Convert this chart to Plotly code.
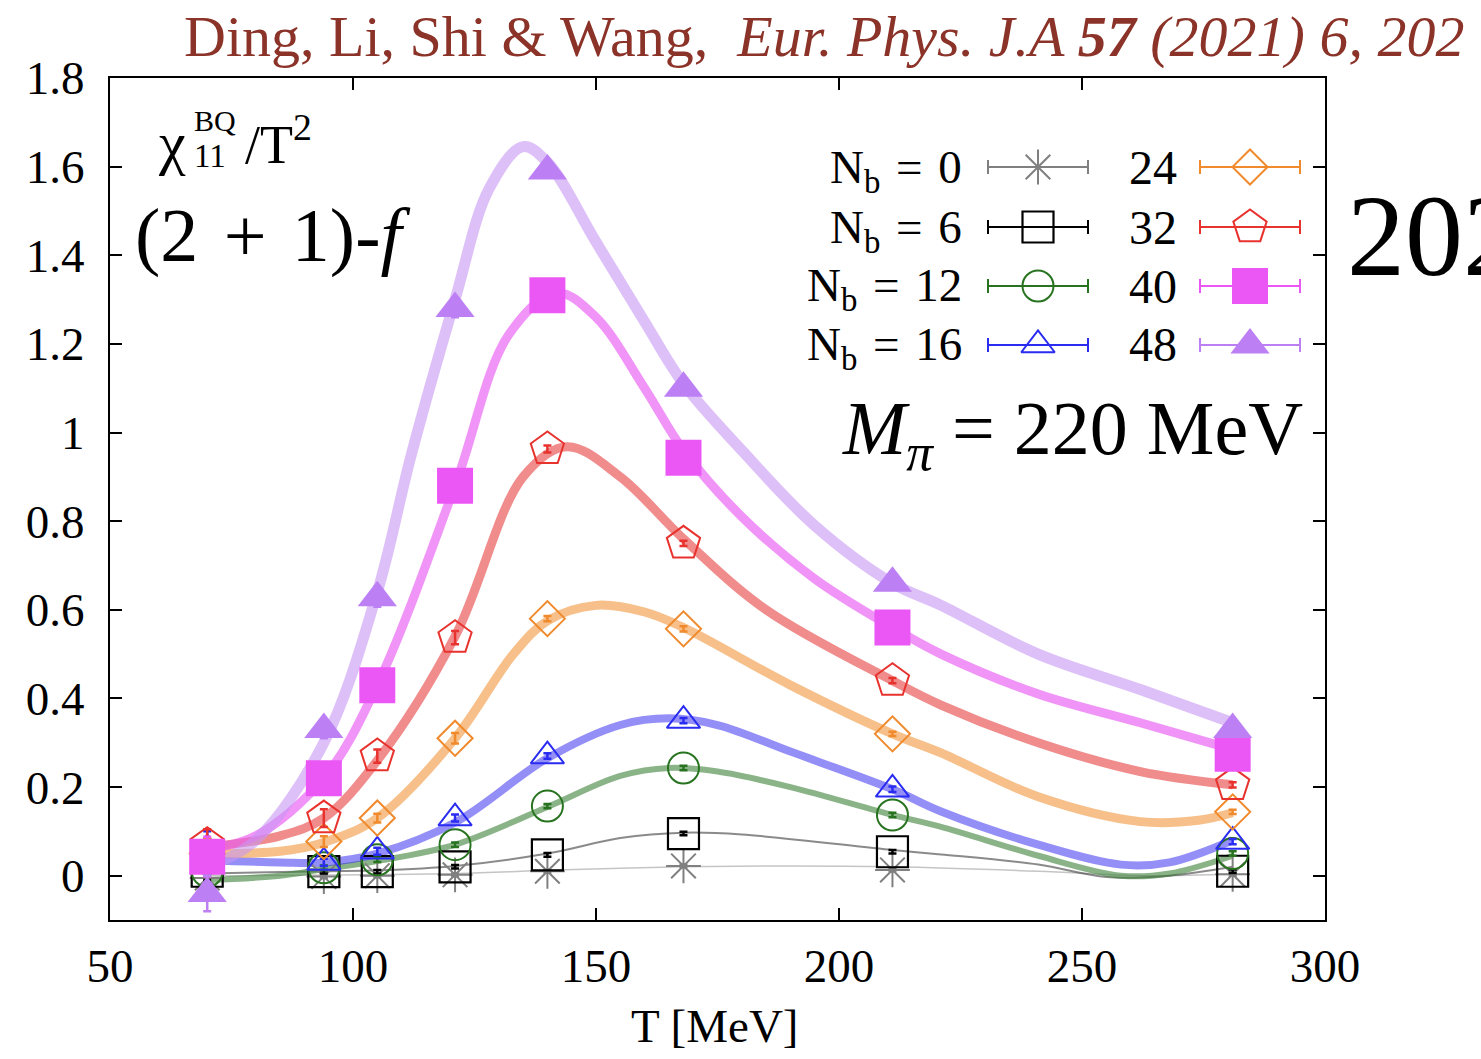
import plotly.graph_objects as go

# ---------------- data ----------------
T = [70, 94, 105, 121, 140, 168, 211, 281]

nb0 = [-0.005, -0.002, 0.0, 0.002, 0.010, 0.022, 0.013, 0.003]
nb6 = [0.010, 0.009, 0.009, 0.020, 0.047, 0.095, 0.054, 0.010]
nb12 = [0.010, 0.018, 0.036, 0.070, 0.157, 0.243, 0.137, 0.050]
nb16 = [0.060, 0.030, 0.055, 0.130, 0.270, 0.350, 0.195, 0.077]
nb24 = [0.050, 0.077, 0.130, 0.310, 0.580, 0.557, 0.320, 0.144]
nb32 = [0.070, 0.130, 0.270, 0.537, 0.963, 0.750, 0.440, 0.205]
nb40 = [0.043, 0.220, 0.430, 0.880, 1.310, 0.943, 0.560, 0.275]
nb48 = [-0.040, 0.330, 0.627, 1.280, 1.590, 1.100, 0.660, 0.330]

err0 = [0.01, 0.003, 0.003, 0.003, 0.003, 0.003, 0.003, 0.003]
err6 = [0.02, 0.004, 0.004, 0.004, 0.004, 0.004, 0.004, 0.004]
err12 = [0.03, 0.005, 0.005, 0.005, 0.005, 0.005, 0.005, 0.005]
err16 = [0.04, 0.008, 0.008, 0.008, 0.006, 0.006, 0.006, 0.006]
err24 = [0.035, 0.012, 0.010, 0.012, 0.006, 0.006, 0.005, 0.005]
err32 = [0.035, 0.020, 0.015, 0.015, 0.008, 0.006, 0.006, 0.006]
err40 = [0.045, 0.015, 0.015, 0.015, 0.010, 0.010, 0.008, 0.008]
err48 = [0.040, 0.020, 0.020, 0.020, 0.015, 0.015, 0.010, 0.010]

# fit curves
c48_T = [70, 80, 94, 105, 112, 121, 128, 135, 140, 150, 160, 168, 180, 195, 211, 221, 241, 262, 281]
c48_v = [0.02, 0.08, 0.30, 0.64, 0.95, 1.30, 1.55, 1.645, 1.61, 1.43, 1.25, 1.11, 0.96, 0.79, 0.66, 0.61, 0.50, 0.42, 0.345]
c40_T = [70, 80, 94, 105, 121, 132, 142, 150, 160, 168, 180, 195, 211, 221, 241, 262, 281]
c40_v = [0.06, 0.09, 0.22, 0.43, 0.88, 1.22, 1.315, 1.26, 1.10, 0.96, 0.81, 0.67, 0.56, 0.50, 0.41, 0.345, 0.285]
c32_T = [70, 85, 94, 105, 121, 135, 144, 155, 168, 185, 211, 221, 241, 262, 281]
c32_v = [0.065, 0.09, 0.13, 0.26, 0.54, 0.90, 0.968, 0.90, 0.76, 0.60, 0.44, 0.385, 0.30, 0.235, 0.205]
c24_T = [70, 85, 94, 105, 121, 133, 140, 150, 160, 168, 190, 211, 221, 241, 262, 274, 281]
c24_v = [0.05, 0.055, 0.075, 0.13, 0.31, 0.50, 0.575, 0.61, 0.595, 0.56, 0.43, 0.32, 0.277, 0.178, 0.122, 0.125, 0.142]
c16_T = [70, 85, 94, 105, 121, 140, 155, 165, 175, 190, 211, 221, 241, 258, 268, 281]
c16_v = [0.035, 0.03, 0.03, 0.05, 0.12, 0.265, 0.34, 0.355, 0.34, 0.28, 0.195, 0.145, 0.07, 0.025, 0.03, 0.08]
c12_T = [70, 85, 94, 105, 121, 140, 155, 165, 175, 190, 211, 221, 241, 258, 268, 281]
c12_v = [-0.01, 0.0, 0.015, 0.033, 0.07, 0.155, 0.225, 0.243, 0.235, 0.20, 0.137, 0.11, 0.045, 0.0, 0.005, 0.045]
c6_T = [70, 94, 105, 121, 140, 155, 168, 180, 211, 221, 241, 255, 268, 281]
c6_v = [0.005, 0.01, 0.012, 0.022, 0.05, 0.085, 0.097, 0.093, 0.058, 0.048, 0.025, -0.003, 0.0, 0.02]
c0_T = [70, 121, 140, 168, 190, 211, 241, 262, 281]
c0_v = [0.0, 0.005, 0.012, 0.02, 0.022, 0.02, 0.01, 0.0, 0.003]

EQ = "\u2004=\u2004"
labels_left = ["N<sub>b</sub>" + EQ + "0", "N<sub>b</sub>" + EQ + "6",
               "N<sub>b</sub>" + EQ + "12", "N<sub>b</sub>" + EQ + "16"]
labels_right = ["24", "32", "40", "48"]

# ---------------- styles ----------------
series = [
    # values, errors, curveT, curveV, marker color, curve color, width, symbol, size, line width
    (nb0, err0, c0_T, c0_v, "#808080", "rgba(150,150,150,0.55)", 1.5, "asterisk-open", 29, 2),
    (nb6, err6, c6_T, c6_v, "#000000", "rgba(60,60,60,0.6)", 2, "square-open", 31, 2.2),
    (nb12, err12, c12_T, c12_v, "#27731f", "rgba(60,130,55,0.6)", 6, "circle-open", 31, 2),
    (nb16, err16, c16_T, c16_v, "#2a2cf2", "rgba(60,50,240,0.55)", 8, "triangle-up-open", 29, 2),
    (nb24, err24, c24_T, c24_v, "#f08a2c", "rgba(242,150,60,0.6)", 9, "diamond-open", 27, 2),
    (nb32, err32, c32_T, c32_v, "#e8322e", "rgba(230,70,70,0.62)", 9, "pentagon-open", 35, 2),
    (nb40, err40, c40_T, c40_v, "#eb57f5", "rgba(232,90,242,0.65)", 9, "square", 36, 0),
    (nb48, err48, c48_T, c48_v, "#bd80f4", "rgba(200,150,244,0.6)", 11, "triangle-up", 34, 0),
]

fig = go.Figure()

# curves first
for vals, errs, cT, cV, mcol, ccol, lw, sym, sz, mlw in series:
    fig.add_trace(go.Scatter(x=cT, y=cV, mode="lines",
                             line=dict(color=ccol, width=lw, shape="spline", smoothing=1.0),
                             hoverinfo="skip", showlegend=False))

# points
for vals, errs, cT, cV, mcol, ccol, lw, sym, sz, mlw in series:
    fig.add_trace(go.Scatter(x=T, y=vals, mode="markers",
                             marker=dict(symbol=sym, size=sz, color=mcol,
                                         line=dict(color=mcol, width=mlw)),
                             error_y=dict(type="data", array=errs, color=mcol, thickness=2.5, width=4),
                             cliponaxis=False, showlegend=False))

# ---------------- layout geometry ----------------
W, H = 1481, 1059
L, R, TOP, BOT = 110, 1325, 78, 920


def px(xp):
    return (xp - L) / (R - L)


def py(yp):
    return (BOT - yp) / (BOT - TOP)


# custom legend drawn on an overlay axis pair
leg_rows = [167, 227, 286, 345]
half = 50 / (R - L)
for i in range(4):
    for col, xc in ((0, 1038), (1, 1250)):
        vals, errs, cT, cV, mcol, ccol, lw, sym, sz, mlw = series[i + 4 * col]
        fig.add_trace(go.Scatter(x=[px(xc)], y=[py(leg_rows[i])], xaxis="x2", yaxis="y2",
                                 mode="markers",
                                 marker=dict(symbol=sym, size=sz, color=mcol,
                                             line=dict(color=mcol, width=mlw)),
                                 error_x=dict(type="data", array=[half], color=mcol, thickness=2, width=7),
                                 cliponaxis=False, showlegend=False, hoverinfo="skip"))

serif = "Liberation Serif"
ann = []
for i in range(4):
    ann.append(dict(x=px(964), y=py(leg_rows[i] + 3), xref="paper", yref="paper", text=labels_left[i],
                    xanchor="right", yanchor="middle", showarrow=False,
                    font=dict(family=serif, size=47, color="black")))
    ann.append(dict(x=px(1127), y=py(leg_rows[i]), xref="paper", yref="paper", text=labels_right[i],
                    xanchor="left", yanchor="middle", showarrow=False,
                    font=dict(family=serif, size=48, color="black")))

# chi label
ann += [
    dict(x=px(156), y=py(143), text="χ", font=dict(family=serif, size=60, color="black")),
    dict(x=px(192), y=py(121), text="BQ", font=dict(family=serif, size=30, color="black")),
    dict(x=px(192), y=py(156), text="11", font=dict(family=serif, size=33, color="black")),
    dict(x=px(243), y=py(140), text="/T<sup>2</sup>", font=dict(family=serif, size=54, color="black")),
    dict(x=px(133), y=py(236), text="(2\u2004+\u20041)-<i>f</i>", font=dict(family=serif, size=76, color="black")),
    dict(x=px(840), y=py(434), text="<i>M</i><sub><i>π</i></sub> = 220 MeV",
         font=dict(family=serif, size=76, color="black")),
    dict(x=px(1345), y=py(236), text="2021", font=dict(family=serif, size=116, color="black")),
    dict(x=px(182), y=py(37),
         text="Ding, Li, Shi &amp; Wang,  <i>Eur. Phys. J.A <b>57</b> (2021) 6, 202</i>",
         font=dict(family=serif, size=58, color="#8b3328")),
    dict(x=px(715), y=py(1026), text="T [MeV]", xanchor="center",
         font=dict(family=serif, size=47, color="black")),
]
for a in ann[8:]:
    a.setdefault("xref", "paper")
    a.setdefault("yref", "paper")
    a.setdefault("xanchor", "left")
    a.setdefault("yanchor", "middle")
    a.setdefault("showarrow", False)

fig.update_layout(
    width=W, height=H,
    margin=dict(l=L, r=W - R, t=TOP, b=H - BOT),
    paper_bgcolor="white", plot_bgcolor="white",
    showlegend=False,
    annotations=ann,
    xaxis=dict(range=[50, 300], tickmode="linear", tick0=50, dtick=50,
               ticks="inside", ticklen=12, tickwidth=1.5, tickcolor="black",
               mirror="ticks", showline=True, linecolor="black", linewidth=2,
               showgrid=False, zeroline=False,
               tickfont=dict(family=serif, size=47, color="black"), ticklabelstandoff=4),
    yaxis=dict(range=[-0.1, 1.8], tickmode="linear", tick0=0, dtick=0.2,
               ticks="inside", ticklen=12, tickwidth=1.5, tickcolor="black",
               mirror="ticks", showline=True, linecolor="black", linewidth=2,
               showgrid=False, zeroline=False,
               tickfont=dict(family=serif, size=47, color="black"), ticklabelstandoff=14),
    xaxis2=dict(range=[0, 1], overlaying="x", visible=False, anchor="y2"),
    yaxis2=dict(range=[0, 1], overlaying="y", visible=False, anchor="x2"),
)

fig.write_html("out.html", config={"displayModeBar": False},
               post_script="document.body.style.margin='0';")
